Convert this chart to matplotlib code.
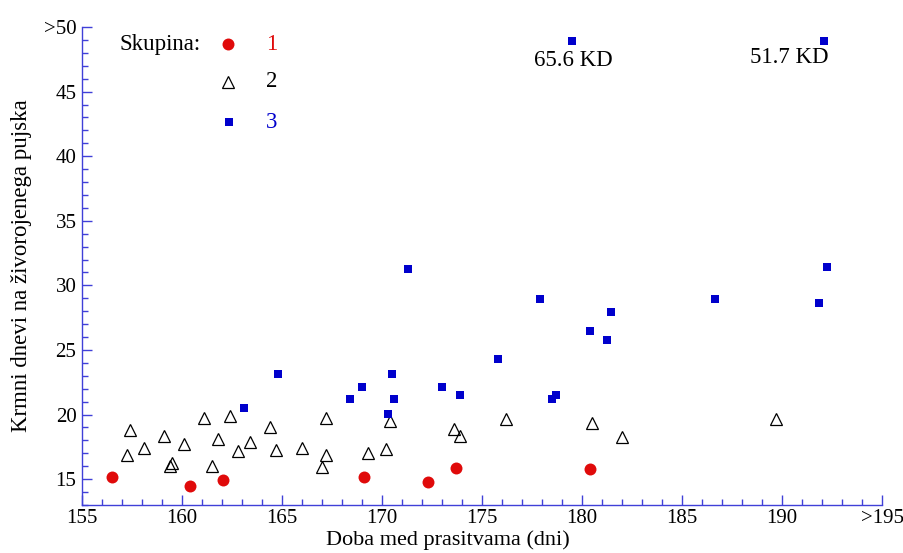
import matplotlib

matplotlib.use("Agg")
import matplotlib.pyplot as plt
from matplotlib.ticker import MultipleLocator

plt.rcParams['font.family'] = ['Liberation Serif', 'DejaVu Serif']

# skupina 1 (red circles)
g1_x = [156.5, 160.4, 162.05, 169.1, 172.3, 173.7, 180.4]
g1_y = [15.15, 14.46, 14.92, 15.15, 14.77, 15.85, 15.78]

# skupina 2 (open triangles)
g2_x = [157.4, 157.23, 158.1, 159.1, 160.1, 159.4, 159.5, 161.1, 161.5, 161.8,
        162.4, 162.8, 163.4, 164.4, 164.7, 166.0, 167.2, 167.2, 167.0, 169.3,
        170.2, 170.4, 173.6, 173.9, 176.2, 180.5, 182.0, 189.7]
g2_y = [18.78, 16.86, 17.43, 18.33, 17.74, 16.0, 16.24, 19.75, 16.0, 18.12,
        19.86, 17.15, 17.87, 19.03, 17.25, 17.43, 19.7, 16.86, 15.98, 16.99,
        17.3, 19.5, 18.85, 18.31, 19.67, 19.32, 18.23, 19.65]

# skupina 3 (blue squares), values >50 drawn at the top
g3_x = [163.1, 164.8, 168.4, 169.0, 170.5, 170.6, 170.3, 171.3, 173.0, 173.9,
        175.8, 178.5, 178.7, 177.9, 181.45, 180.4, 181.25, 186.65, 192.25, 191.85,
        179.5, 192.1]
g3_y = [20.48, 23.14, 21.18, 22.16, 23.14, 21.18, 20.06, 31.28, 22.16, 21.53,
        24.3, 21.18, 21.53, 28.95, 27.95, 26.5, 25.8, 28.95, 31.43, 28.64,
        48.95, 48.95]

outlier_labels = ["65.6 KD", "51.7 KD"]
outlier_pos = [(179.55, 47.4), (190.35, 47.64)]

x_ticks = [155, 160, 165, 170, 175, 180, 185, 190, 195]
x_ticklabels = ["155", "160", "165", "170", "175", "180", "185", "190", ">195"]
y_ticks = [15, 20, 25, 30, 35, 40, 45, 50]
y_ticklabels = ["15", "20", "25", "30", "35", "40", "45", ">50"]

RED = '#e00a0a'
BLUE = '#0000cc'
AXCOL = '#4040d8'
FS = 15
FS_TXT = 16.5

fig = plt.figure(figsize=(9.04, 5.53), dpi=100)
ax = fig.add_axes([82 / 904, 1 - 505 / 553, 800 / 904, 478 / 553])

ax.plot(g1_x, g1_y, 'o', color=RED, markersize=8.6, markeredgewidth=0, clip_on=False)
ax.plot(g2_x, g2_y, '^', markerfacecolor='none', markeredgecolor='black',
        markersize=8, markeredgewidth=0.9, clip_on=False)
ax.plot(g3_x, g3_y, 's', color=BLUE, markersize=5.8, markeredgewidth=0, clip_on=False)

for lab, (tx, ty) in zip(outlier_labels, outlier_pos):
    ax.text(tx, ty, lab, ha='center', va='center', fontsize=FS_TXT)

ax.set_xlim(155, 195)
ax.set_ylim(13, 50)
ax.set_xticks(x_ticks)
ax.set_xticklabels(x_ticklabels)
ax.set_yticks(y_ticks)
ax.set_yticklabels(y_ticklabels)
ax.xaxis.set_minor_locator(MultipleLocator(1))
ax.yaxis.set_minor_locator(MultipleLocator(1))

ax.tick_params(which='both', direction='in', color=AXCOL, labelsize=FS)
ax.tick_params(which='major', length=7.5, width=1)
ax.tick_params(which='minor', length=4, width=1)
ax.tick_params(axis='x', pad=3)
ax.tick_params(axis='y', pad=4)

for side in ['top', 'right']:
    ax.spines[side].set_visible(False)
for side in ['left', 'bottom']:
    ax.spines[side].set_color(AXCOL)
    ax.spines[side].set_linewidth(1)

ax.set_xlabel("Doba med prasitvama (dni)", fontsize=16)
ax.xaxis.set_label_coords(0.4575, -0.052)
ax.set_ylabel("Krmni dnevi na živorojenega pujska", fontsize=FS_TXT)
ax.yaxis.set_label_coords(-0.0625, 0.5)

# legend drawn by hand
ax.text(0.0475, 0.9644, "Skupina:", transform=ax.transAxes, ha='left', va='center', fontsize=FS_TXT)
ax.plot([0.1825], [0.9644], 'o', color=RED, markersize=8.6, markeredgewidth=0,
        transform=ax.transAxes, clip_on=False)
ax.plot([0.1825], [0.885], '^', markerfacecolor='none', markeredgecolor='black',
        markersize=8, markeredgewidth=0.9, transform=ax.transAxes, clip_on=False)
ax.plot([0.184], [0.801], 's', color=BLUE, markersize=5.8, markeredgewidth=0,
        transform=ax.transAxes, clip_on=False)
for lab, yy, col in zip(["1", "2", "3"], [0.9644, 0.885, 0.801], [RED, 'black', BLUE]):
    ax.text(0.2375, yy, lab, transform=ax.transAxes, ha='center', va='center',
            fontsize=FS_TXT, color=col)

fig.savefig("out.png", dpi=100)
